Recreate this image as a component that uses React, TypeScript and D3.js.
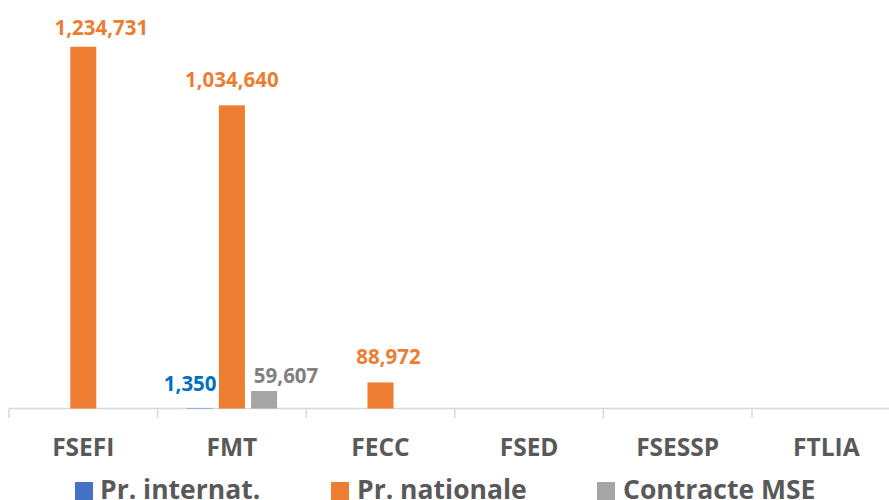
import React from "react";
import * as d3 from "d3";

const categories = ["FSEFI", "FMT", "FECC", "FSED", "FSESSP", "FTLIA"];
const seriesNames = ["Pr. internat.", "Pr. nationale", "Contracte MSE"];
const prInternat = [0, 1350, 0, 0, 0, 0];
const prNationale = [1234731, 1034640, 88972, 0, 0, 0];
const contracteMSE = [0, 59607, 0, 0, 0, 0];

const seriesValues = [prInternat, prNationale, contracteMSE];
const barColors = ["#4472C4", "#ED7D31", "#A5A5A5"];
const labelColors = ["#0070C0", "#ED7D31", "#808080"];
// label nudges (dx, dy from bar top) per series per category, as placed in the original
const labelNudge: Record<string, [number, number]> = {
  "1-0": [18, -11.7],
  "1-1": [0, -18.3],
  "1-2": [8, -18.5],
  "0-1": [-9.5, -17.5],
  "2-1": [22, -7.7],
};

const W = 889;
const H = 500;
const fmt = d3.format(",");
const FONT = "'Open Sans', sans-serif";

export default function App() {
  const x = d3.scaleBand<string>().domain(categories).range([9, 9 + 6 * 148.6]);
  const y = d3.scaleLinear().domain([0, 1400000]).range([408.5, -1.7]);
  const barW = 26;
  const step = 32.2;
  const baseY = y(0);
  const legendX = [75, 331, 597];
  const legendTextX = [100, 357, 623];

  return (
    <div style={{ position: "fixed", left: 0, top: 0, width: W, height: H, background: "#fff" }}>
      <svg width={W} height={H} style={{ display: "block" }}>
        {/* axis line */}
        <line x1={9} x2={W} y1={baseY} y2={baseY} stroke="#D9D9D9" strokeWidth={1.5} />
        {categories.map((c, i) => (
          <line
            key={"t" + c}
            x1={(x(c) as number)}
            x2={(x(c) as number)}
            y1={baseY}
            y2={baseY + 9.5}
            stroke="#D9D9D9"
            strokeWidth={1.5}
          />
        ))}
        {/* bars */}
        {seriesValues.map((vals, s) =>
          vals.map((v, i) => {
            if (!v) return null;
            const cx = (x(categories[i]) as number) + x.bandwidth() / 2 + (s - 1) * step;
            const top = y(v);
            return (
              <rect
                key={`b${s}-${i}`}
                x={cx - barW / 2}
                y={top}
                width={barW}
                height={Math.max(0.3, baseY - top)}
                fill={barColors[s]}
              />
            );
          })
        )}
        {/* data labels */}
        {seriesValues.map((vals, s) =>
          vals.map((v, i) => {
            if (!v) return null;
            const cx = (x(categories[i]) as number) + x.bandwidth() / 2 + (s - 1) * step;
            const top = y(v);
            const [dx, dy] = labelNudge[`${s}-${i}`] || [0, -10];
            return (
              <text
                key={`l${s}-${i}`}
                x={cx + dx}
                y={top + dy}
                textAnchor="middle"
                fontFamily={FONT}
                fontWeight={700}
                fontSize={20.5}
                fill={labelColors[s]}
              >
                {fmt(v)}
              </text>
            );
          })
        )}
        {/* category labels */}
        {categories.map((c) => (
          <text
            key={"c" + c}
            x={(x(c) as number) + x.bandwidth() / 2}
            y={456}
            textAnchor="middle"
            fontFamily={FONT}
            fontWeight={700}
            fontSize={24.5}
            fill="#595959"
          >
            {c}
          </text>
        ))}
        {/* legend */}
        {seriesNames.map((n, s) => (
          <g key={"lg" + n}>
            <rect x={legendX[s]} y={482} width={18} height={18} fill={barColors[s]} />
            <text
              x={legendTextX[s]}
              y={499}
              fontFamily={FONT}
              fontWeight={700}
              fontSize={26.5}
              fill="#595959"
            >
              {n}
            </text>
          </g>
        ))}
      </svg>
    </div>
  );
}
